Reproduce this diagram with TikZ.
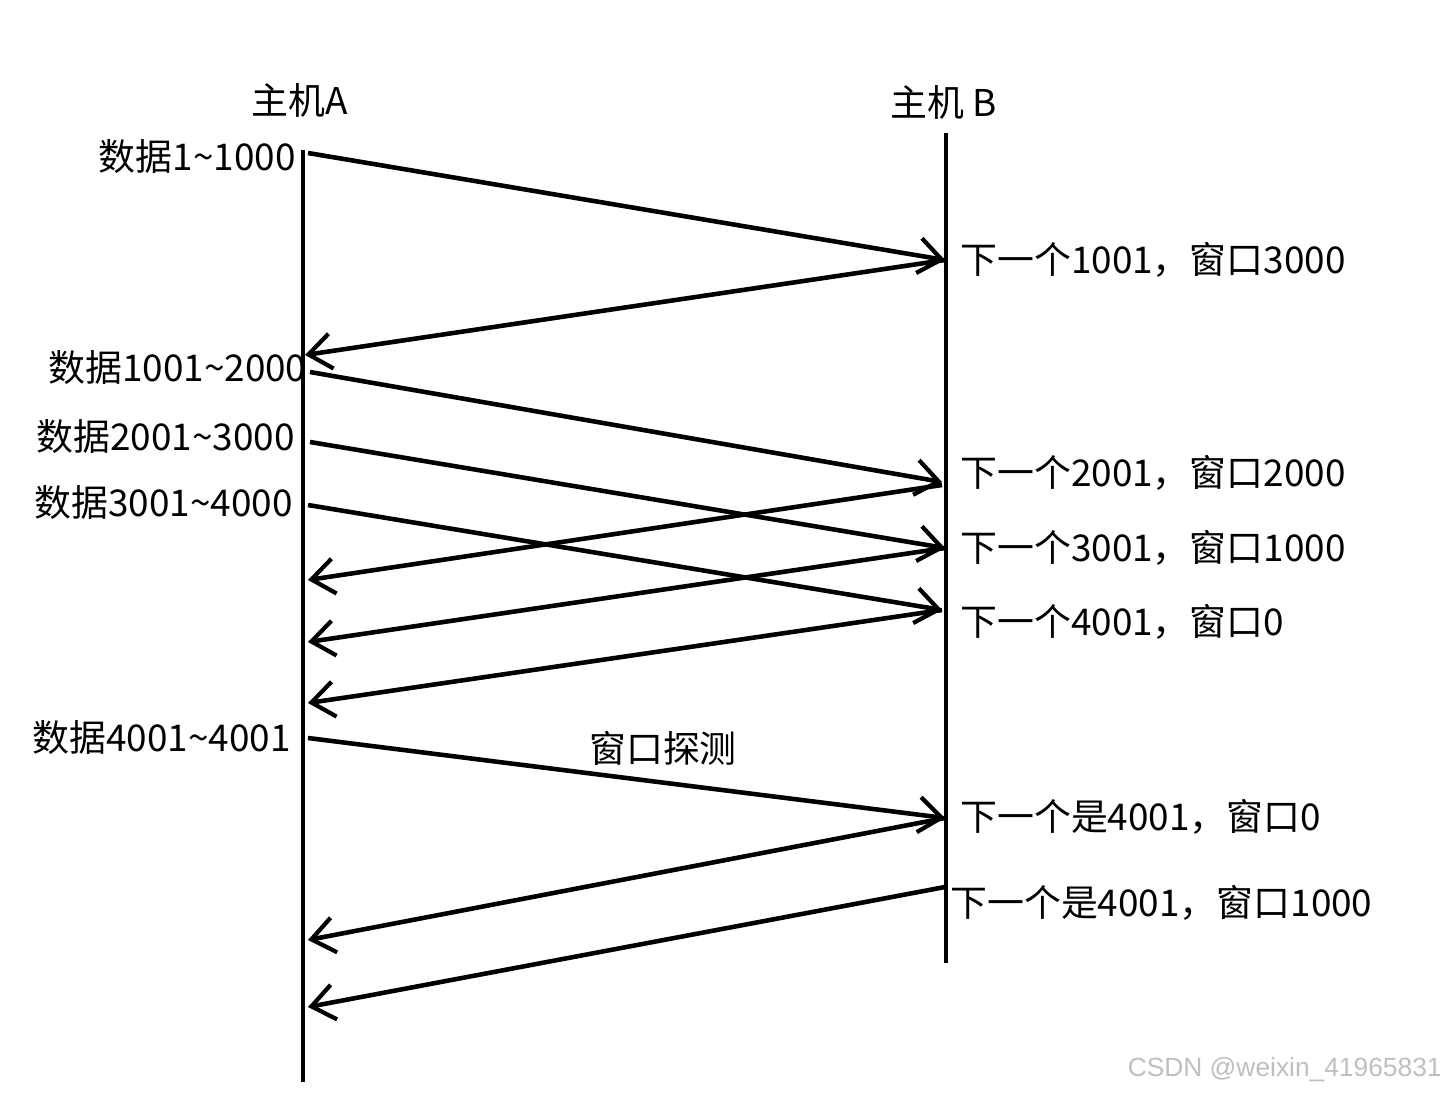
\documentclass[tikz,border=0pt]{standalone}
\usepackage{fontspec}
\setmainfont{Noto Sans CJK SC}
\newfontfamily\markfont{Liberation Sans}
\usetikzlibrary{arrows.meta}

\begin{document}
\begin{tikzpicture}[x=0.02cm,y=-0.02cm,
    lifeline/.style={line width=2.8pt},
    msg/.style={line width=2.6pt,-{Straight Barb[length=13pt,width=20pt,line width=2.4pt]}},
    lbl/.style={inner sep=0pt,font=\fontsize{21}{25}\selectfont}]
    % Bounding box of the whole picture
    \useasboundingbox (0,0) rectangle (1448,1096);

    % Hosts and their time lines
    \node[lbl] (hostA) at (300,100) {主机A};
    \node[lbl] (hostB) at (944,102) {主机 B};
    \coordinate (Atop) at (303,150);
    \coordinate (Abot) at (303,1082);
    \coordinate (Btop) at (946,133);
    \coordinate (Bbot) at (946,963);
    \draw[lifeline] (Atop) -- (Abot);
    \draw[lifeline] (Btop) -- (Bbot);

    % Points on host A
    \coordinate (a1) at (308,153);
    \coordinate (a2) at (305,355);
    \coordinate (a3) at (310,372);
    \coordinate (a4) at (310,442);
    \coordinate (a5) at (308,505);
    \coordinate (a6) at (308,580);
    \coordinate (a7) at (308,642);
    \coordinate (a8) at (308,703);
    \coordinate (a9) at (308,738);
    \coordinate (a10) at (308,940);
    \coordinate (a11) at (308,1007);

    % Points on host B
    \coordinate (b1) at (945,260);
    \coordinate (b2) at (942,482);
    \coordinate (b3) at (942,485);
    \coordinate (b4) at (945,548);
    \coordinate (b5) at (942,610);
    \coordinate (b6) at (945,818);
    \coordinate (b7) at (945,887);

    % Data segments from A to B
    \draw[msg] (a1) -- (b1);
    \draw[msg] (a3) -- (b2);
    \draw[msg] (a4) -- (b4);
    \draw[msg] (a5) -- (b5);
    \draw[msg] (a9) -- (b6);

    % Acknowledgements from B to A
    \draw[msg] (b1) -- (a2);
    \draw[msg] (b3) -- (a6);
    \draw[msg] (b4) -- (a7);
    \draw[msg] (b5) -- (a8);
    \draw[msg] (b6) -- (a10);
    \draw[msg] (b7) -- (a11);

    % Labels on the sender side
    \node[lbl,anchor=east] (d1) at (296,157) {数据1\textasciitilde 1000};
    \node[lbl,anchor=west] (d2) at (48,368) {数据1001\textasciitilde 2000};
    \node[lbl,anchor=east] (d3) at (295,437) {数据2001\textasciitilde 3000};
    \node[lbl,anchor=east] (d4) at (293,503) {数据3001\textasciitilde 4000};
    \node[lbl,anchor=east] (d5) at (291,738) {数据4001\textasciitilde 4001};
    \node[lbl] (probe) at (663,748) {窗口探测};

    % Labels on the receiver side
    \node[lbl,anchor=west] (k1) at (960,260) {下一个1001，窗口3000};
    \node[lbl,anchor=west] (k2) at (960,473) {下一个2001，窗口2000};
    \node[lbl,anchor=west] (k3) at (960,548) {下一个3001，窗口1000};
    \node[lbl,anchor=west] (k4) at (960,622) {下一个4001，窗口0};
    \node[lbl,anchor=west] (k5) at (960,817) {下一个是4001，窗口0};
    \node[lbl,anchor=west] (k6) at (950,903) {下一个是4001，窗口1000};

    % Watermark
    \node[inner sep=0pt,anchor=east,text=black!25,font=\markfont\fontsize{15}{18}\selectfont] (mark) at (1442,1070) {CSDN @weixin\_41965831};
\end{tikzpicture}
\end{document}
